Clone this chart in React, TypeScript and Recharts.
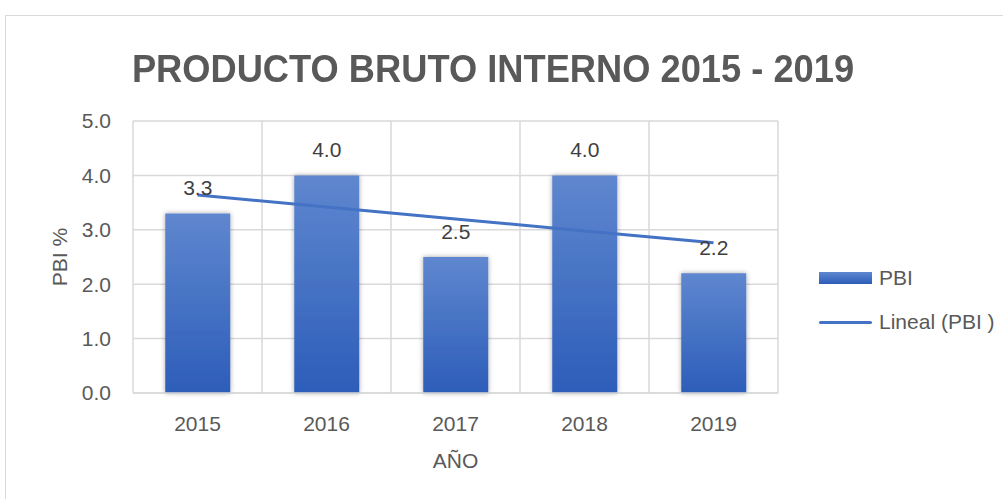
import { Bar, CartesianGrid, ComposedChart, LabelList, Line, XAxis, YAxis } from "recharts";

const years = ["2015", "2016", "2017", "2018", "2019"];
const pbi = [3.3, 4.0, 2.5, 4.0, 2.2];
// linear trend line
const trend = [3.64, 3.42, 3.2, 2.98, 2.76];
const yTicks = [0, 1, 2, 3, 4, 5];

const data = years.map((year, i) => ({ year, pbi: pbi[i], trend: trend[i] }));

const FONT = "'Liberation Sans', Arial, sans-serif";
const GRID = "#d9d9d9";
const TEXT = "#595959";
const FS = 21;

function YLabel({ viewBox }: any) {
  const x = viewBox.x + 16;
  const y = viewBox.y + viewBox.height / 2;
  return (
    <text
      x={x}
      y={y}
      transform={`rotate(-90 ${x} ${y})`}
      textAnchor="middle"
      dominantBaseline="central"
      fill={TEXT}
      fontSize={FS}
      fontFamily={FONT}
    >
      PBI %
    </text>
  );
}

export default function App() {
  return (
    <div
      style={{
        position: "absolute",
        left: 0,
        top: 0,
        width: 1003,
        height: 499,
        overflow: "hidden",
        background: "#fff",
        fontFamily: FONT,
      }}
    >
      <div
        style={{
          position: "absolute",
          left: 5,
          top: 15,
          width: 1020,
          height: 520,
          border: `1px solid ${GRID}`,
        }}
      />
      <div
        style={{
          position: "absolute",
          left: 0,
          width: 986,
          top: 47,
          textAlign: "center",
          fontSize: 39,
          lineHeight: "normal",
          fontWeight: "bold",
          color: TEXT,
          transform: "scaleX(0.93)",
          transformOrigin: "493px 0",
          whiteSpace: "nowrap",
        }}
      >
        PRODUCTO BRUTO INTERNO 2015 - 2019
      </div>

      <ComposedChart
        width={1003}
        height={499}
        data={data}
        margin={{ top: 121, right: 225, bottom: 26, left: 43 }}
        barCategoryGap="25%"
        style={{ position: "absolute", left: 0, top: 0 }}
      >
        <defs>
          <linearGradient id="barGrad" x1="0" y1="0" x2="0" y2="1">
            <stop offset="0%" stopColor="#5f87cf" />
            <stop offset="100%" stopColor="#2d5db9" />
          </linearGradient>
          <filter id="barShadow" x="-20%" y="-10%" width="140%" height="120%">
            <feDropShadow dx="0" dy="0" stdDeviation="2.5" floodColor="#000" floodOpacity="0.35" />
          </filter>
        </defs>
        <CartesianGrid
          stroke={GRID}
          strokeWidth={1.5}
          verticalCoordinatesGenerator={({ offset }: any) =>
            Array.from({ length: years.length + 1 }, (_, i) => offset.left + (offset.width * i) / years.length)
          }
        />
        <XAxis
          dataKey="year"
          height={80}
          axisLine={{ stroke: GRID, strokeWidth: 1.5 }}
          tickLine={false}
          tickSize={0}
          tickMargin={23}
          tick={{ fill: TEXT, fontSize: FS, fontFamily: FONT }}
          label={{ value: "AÑO", position: "insideBottom", offset: 5, fill: TEXT, fontSize: FS, fontFamily: FONT }}
        />
        <YAxis
          width={90}
          domain={[0, 5]}
          ticks={yTicks}
          interval={0}
          axisLine={false}
          tickLine={false}
          tickSize={0}
          tickMargin={22}
          tickFormatter={(v: number) => v.toFixed(1)}
          tick={{ fill: TEXT, fontSize: FS, fontFamily: FONT }}
          label={<YLabel />}
        />
        <Bar dataKey="pbi" name="PBI" fill="url(#barGrad)" filter="url(#barShadow)" isAnimationActive={false}>
          <LabelList
            dataKey="pbi"
            position="top"
            offset={18}
            formatter={(v: any) => Number(v).toFixed(1)}
            fill="#404040"
            fontSize={FS}
            fontFamily={FONT}
          />
        </Bar>
        <Line
          dataKey="trend"
          name="Lineal (PBI )"
          stroke="#4472c4"
          strokeWidth={3}
          dot={false}
          activeDot={false}
          isAnimationActive={false}
        />
      </ComposedChart>

      <div style={{ position: "absolute", left: 819, top: 265, color: TEXT, fontSize: FS }}>
        <div style={{ display: "flex", alignItems: "center", height: 26 }}>
          <div
            style={{
              width: 53,
              height: 12,
              background: "linear-gradient(#5f87cf, #2d5db9)",
              marginRight: 7,
            }}
          />
          PBI
        </div>
        <div style={{ display: "flex", alignItems: "center", height: 26, marginTop: 18 }}>
          <div style={{ width: 53, height: 3, background: "#4472c4", borderRadius: 2, marginRight: 7 }} />
          Lineal (PBI )
        </div>
      </div>
    </div>
  );
}
